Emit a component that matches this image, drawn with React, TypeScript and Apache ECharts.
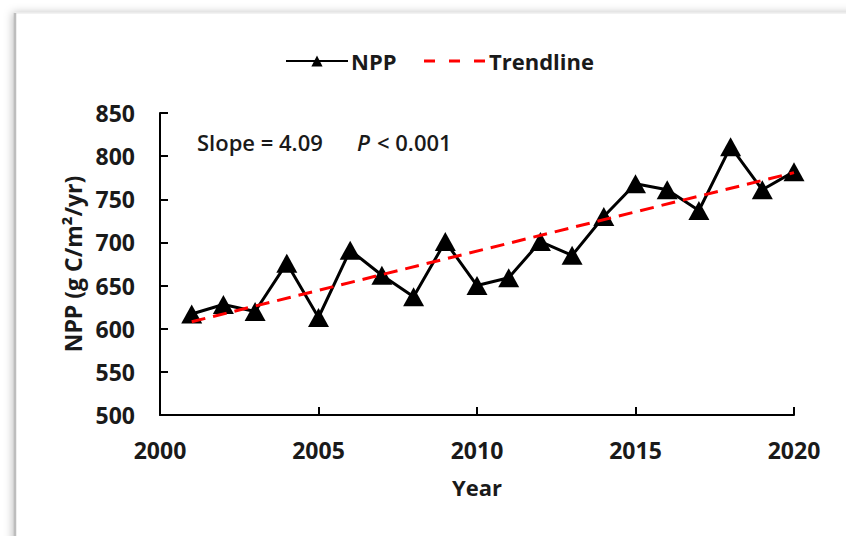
import React, { useEffect, useRef } from "react";
import * as echarts from "echarts";

const years = [2001, 2002, 2003, 2004, 2005, 2006, 2007, 2008, 2009, 2010, 2011, 2012, 2013, 2014, 2015, 2016, 2017, 2018, 2019, 2020];
const nppValues = [617, 628, 620, 676, 613, 691, 662, 637, 701, 650, 659, 701, 685, 730, 768, 761, 737, 811, 761, 782];
const seriesNames = ["NPP", "Trendline"];
const yTicks = { min: 500, max: 850, interval: 50 };
const xTicks = { min: 2000, max: 2020, interval: 5 };
const slopeText = "Slope = 4.09";
const pText = "< 0.001";

function regression(xs: number[], ys: number[]) {
  const n = xs.length;
  const mx = xs.reduce((a, b) => a + b, 0) / n;
  const my = ys.reduce((a, b) => a + b, 0) / n;
  let sxy = 0, sxx = 0;
  for (let i = 0; i < n; i++) {
    sxy += (xs[i] - mx) * (ys[i] - my);
    sxx += (xs[i] - mx) * (xs[i] - mx);
  }
  const b = sxy / sxx;
  return { a: my - b * mx, b };
}

const FONT = "'Open Sans', 'Noto Sans', sans-serif";

export default function App() {
  const ref = useRef<HTMLDivElement>(null);
  useEffect(() => {
    if (!ref.current) return;
    const chart = echarts.init(ref.current, null, { renderer: "svg" });
    const { a, b } = regression(years, nppValues);
    const x0 = years[0];
    const x1 = years[years.length - 1];
    const trend = [
      [x0, a + b * x0],
      [x1, a + b * x1],
    ];
    chart.setOption({
      animation: false,
      backgroundColor: "#ffffff",
      graphic: [
        {
          type: "rect",
          z: -10,
          shape: { x: 15, y: 13, width: 900, height: 600 },
          style: { fill: "#ffffff", stroke: "#e6e6e6", lineWidth: 1, shadowBlur: 8, shadowColor: "rgba(0,0,0,0.25)", shadowOffsetX: -2, shadowOffsetY: 0 },
        },
        {
          type: "line",
          z: -9,
          shape: { x1: 15, y1: 13, x2: 15, y2: 560 },
          style: { stroke: "#bdbdbd", lineWidth: 2.5 },
        },
        {
          type: "text",
          left: 197,
          top: 131,
          style: { text: slopeText, font: `600 22px ${FONT}`, fill: "#1a1a1a" },
        },
        {
          type: "text",
          left: 357,
          top: 131,
          style: { text: "P", font: `italic 600 22px ${FONT}`, fill: "#1a1a1a" },
        },
        {
          type: "text",
          left: 377,
          top: 131,
          style: { text: pText, font: `600 22px ${FONT}`, fill: "#1a1a1a" },
        },
      ],
      legend: {
        data: [
          { name: seriesNames[0] },
          { name: seriesNames[1], itemStyle: { opacity: 0 }, lineStyle: { type: [11, 14], width: 3, color: "#ff0000" } },
        ],
        top: 45,
        left: 280,
        itemWidth: 62,
        itemHeight: 14,
        itemGap: 26,
        textStyle: { fontFamily: FONT, fontWeight: "bold", fontSize: 22, color: "#1a1a1a", padding: [0, 0, 0, -2] },
      },
      grid: { left: 160, right: 52, top: 113, bottom: 121 },
      xAxis: {
        type: "value",
        min: xTicks.min,
        max: xTicks.max,
        interval: xTicks.interval,
        name: "Year",
        nameLocation: "middle",
        nameGap: 61,
        nameTextStyle: { fontFamily: FONT, fontWeight: "bold", fontSize: 22, color: "#1a1a1a" },
        axisLine: { lineStyle: { color: "#000", width: 2 } },
        axisTick: { inside: true, length: 8, lineStyle: { color: "#000", width: 2 } },
        axisLabel: { margin: 23, fontFamily: FONT, fontWeight: "bold", fontSize: 23, color: "#1a1a1a", formatter: (v: number) => String(v) },
        splitLine: { show: false },
      },
      yAxis: {
        type: "value",
        min: yTicks.min,
        max: yTicks.max,
        interval: yTicks.interval,
        name: "NPP (g C/m²/yr)",
        nameLocation: "middle",
        nameGap: 70,
        nameTextStyle: { fontFamily: FONT, fontWeight: "bold", fontSize: 23, color: "#1a1a1a" },
        axisLine: { show: true, lineStyle: { color: "#000", width: 2 } },
        axisTick: { show: true, inside: true, length: 8, lineStyle: { color: "#000", width: 2 } },
        axisLabel: { margin: 25, fontFamily: FONT, fontWeight: "bold", fontSize: 23, color: "#1a1a1a" },
        splitLine: { show: false },
      },
      series: [
        {
          name: seriesNames[0],
          type: "line",
          data: years.map((y, i) => [y, nppValues[i]]),
          symbol: "triangle",
          symbolSize: [21, 19],
          lineStyle: { color: "#000", width: 3 },
          itemStyle: { color: "#000" },
          z: 2,
        },
        {
          name: seriesNames[1],
          type: "line",
          data: trend,
          symbol: "none",
          lineStyle: { color: "#ff0000", width: 3, type: [14, 8] },
          itemStyle: { color: "#ff0000" },
          z: 3,
        },
      ],
    });
    return () => chart.dispose();
  }, []);
  return <div ref={ref} style={{ position: "fixed", left: 0, top: 0, width: 846, height: 536 }} />;
}
